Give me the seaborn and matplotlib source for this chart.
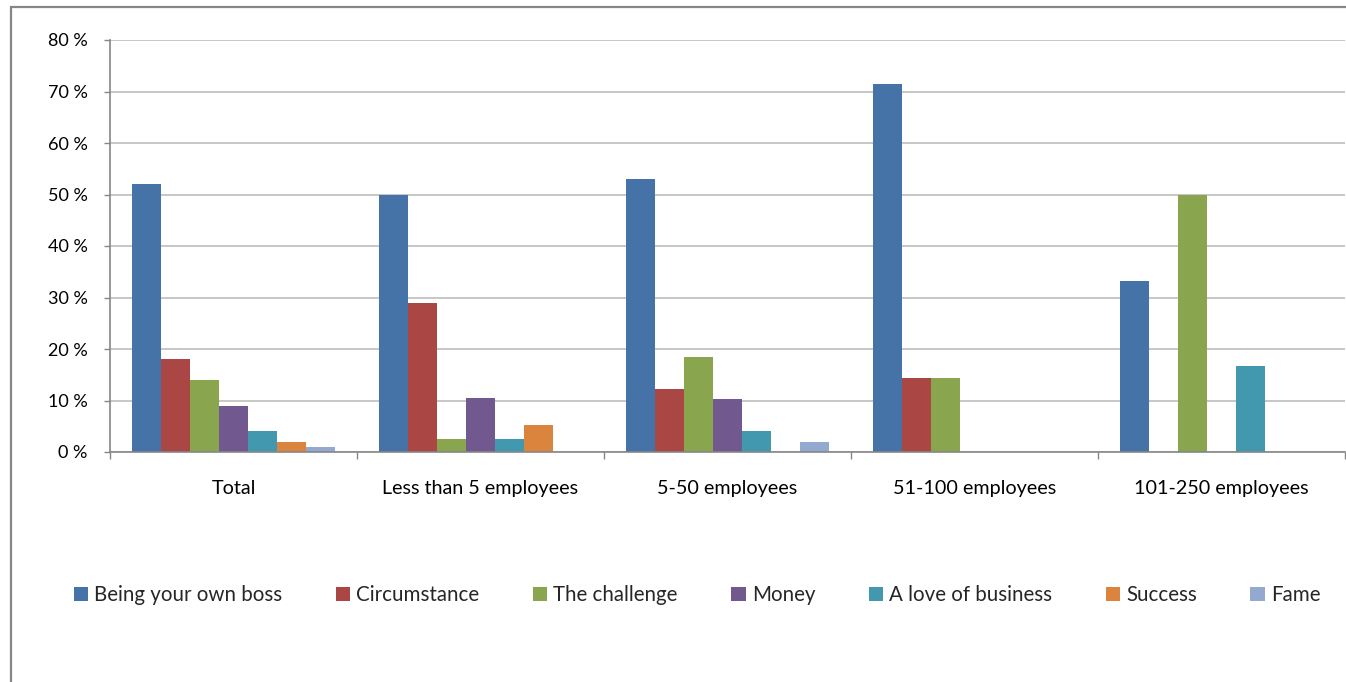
"""Reasons for starting a business, by company size (grouped bar chart)."""

import matplotlib
matplotlib.use("Agg")
import matplotlib.pyplot as plt
import matplotlib.patches as patches
import pandas as pd
import seaborn as sns
from matplotlib.ticker import FixedLocator, FuncFormatter

# ---------------------------------------------------------------------------
# Data (percent)
# ---------------------------------------------------------------------------
groups = ["Total", "Less than 5 employees", "5-50 employees",
          "51-100 employees", "101-250 employees"]
reasons = ["Being your own boss", "Circumstance", "The challenge", "Money",
           "A love of business", "Success", "Fame"]

own_boss = [52.0, 50.0, 53.0, 71.4, 33.3]
circumstance = [18.0, 28.9, 12.2, 14.3, 0.0]
challenge = [14.0, 2.6, 18.4, 14.3, 50.0]
money = [9.0, 10.5, 10.2, 0.0, 0.0]
love_of_business = [4.0, 2.6, 4.1, 0.0, 16.7]
success = [2.0, 5.3, 0.0, 0.0, 0.0]
fame = [1.0, 0.0, 2.0, 0.0, 0.0]

colors = ["#4572A7", "#AA4643", "#89A54E", "#71588F",
          "#4198AF", "#DB843D", "#93A9CF"]

series = [own_boss, circumstance, challenge, money,
          love_of_business, success, fame]
df = pd.DataFrame(
    [(g, r, v) for r, vals in zip(reasons, series) for g, v in zip(groups, vals)],
    columns=["group", "reason", "value"],
)

# ---------------------------------------------------------------------------
# Plot
# ---------------------------------------------------------------------------
sns.set_theme(style="white")
plt.rcParams["font.family"] = ["Lato", "DejaVu Sans"]

fig = plt.figure(figsize=(13.46, 6.82), dpi=100)
ax = fig.add_axes([110 / 1346, 230 / 682, 1235 / 1346, 412 / 682])

sns.barplot(
    data=df, x="group", y="value", hue="reason",
    order=groups, hue_order=reasons, palette=colors,
    width=0.82, linewidth=0, saturation=1, ax=ax, legend=False,
)

ax.set_xlim(-0.5, 4.5)
ax.set_ylim(0, 80)
ax.set_yticks(range(0, 81, 10))
ax.yaxis.set_major_formatter(FuncFormatter(lambda v, _: f"{v:.0f} %"))
ax.yaxis.grid(True, color="#BEBEBE", linewidth=1.2)
ax.set_axisbelow(True)
ax.set_xlabel("")
ax.set_ylabel("")

for side in ("top", "right"):
    ax.spines[side].set_visible(False)
for side in ("left", "bottom"):
    ax.spines[side].set_color("#868686")
    ax.spines[side].set_linewidth(1.2)

ax.tick_params(axis="y", length=4, width=1, color="#868686", pad=12,
               labelsize=13, labelcolor="black", left=True)
ax.tick_params(axis="x", which="major", length=0, pad=20,
               labelsize=14.2, labelcolor="black")
ax.xaxis.set_minor_locator(FixedLocator([-0.5, 0.5, 1.5, 2.5, 3.5, 4.5]))
ax.tick_params(axis="x", which="minor", length=5, width=1,
               color="#868686", bottom=True)

# legend in one row below the chart
handles = [patches.Patch(facecolor=c, edgecolor="none") for c in colors]
fig.legend(
    handles, reasons, loc="center", bbox_to_anchor=(697 / 1346, 1 - 595 / 682),
    ncol=7, frameon=False, fontsize=14.8, handlelength=0.7, handleheight=0.7,
    handletextpad=0.3, columnspacing=2.6,
)

# outer chart border
fig.patches.append(patches.Rectangle(
    (11 / 1346, -0.1), 1.5, 0.1 + 675 / 682, transform=fig.transFigure,
    fill=False, edgecolor="#868686", linewidth=1.6,
))

fig.savefig("out.png", dpi=100)
plt.close(fig)
